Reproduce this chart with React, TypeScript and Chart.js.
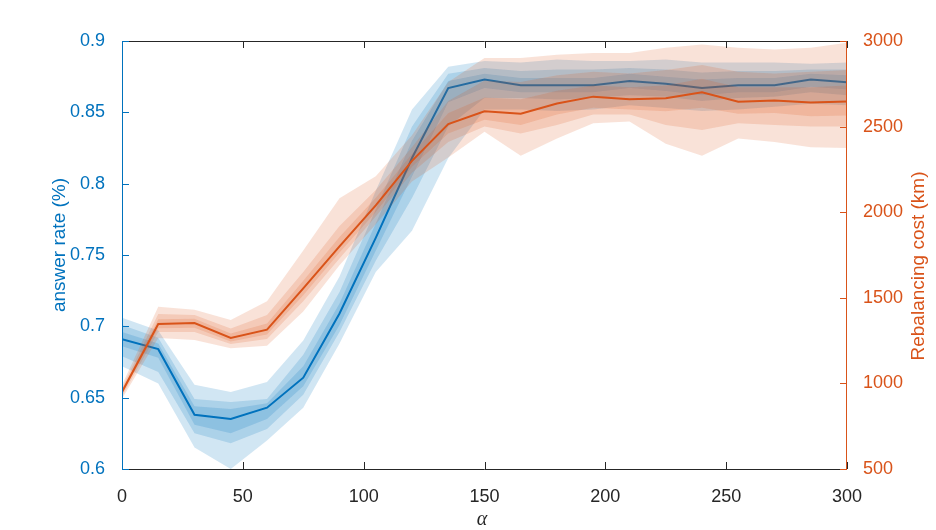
import React, { useEffect, useRef } from "react";
import { Chart, registerables, Plugin } from "chart.js";

Chart.register(...registerables);

const BLUE = "#0072BD";
const ORANGE = "#D95319";
const AXIS = "#262626";
const BLUE_FILL = "rgba(0, 114, 189, 0.18)";
const ORANGE_FILL = "rgba(217, 83, 25, 0.17)";
const FONT = "'Liberation Sans', Arial, Helvetica, sans-serif";

// alpha values on the x axis
const alphas = [0, 15, 30, 45, 60, 75, 90, 105, 120, 135, 150, 165, 180, 195, 210, 225, 240, 255, 270, 285, 300];

// answer rate (left axis)
const rateMid = [0.691, 0.684, 0.638, 0.635, 0.643, 0.664, 0.709, 0.762, 0.818, 0.867, 0.873, 0.869, 0.869, 0.869, 0.872, 0.870, 0.867, 0.869, 0.869, 0.873, 0.871];
const rateOuterHi = [0.706, 0.697, 0.659, 0.654, 0.661, 0.690, 0.735, 0.795, 0.852, 0.882, 0.886, 0.885, 0.887, 0.886, 0.886, 0.887, 0.885, 0.885, 0.885, 0.884, 0.885];
const rateOuterLo = [0.672, 0.660, 0.615, 0.600, 0.620, 0.643, 0.688, 0.738, 0.767, 0.818, 0.852, 0.852, 0.851, 0.852, 0.855, 0.853, 0.851, 0.852, 0.854, 0.856, 0.855];
const rateMidHi = [0.701, 0.692, 0.649, 0.647, 0.649, 0.680, 0.724, 0.782, 0.840, 0.877, 0.881, 0.879, 0.880, 0.880, 0.881, 0.880, 0.878, 0.879, 0.879, 0.880, 0.880];
const rateMidLo = [0.679, 0.668, 0.625, 0.618, 0.628, 0.652, 0.696, 0.746, 0.790, 0.840, 0.860, 0.860, 0.859, 0.860, 0.862, 0.861, 0.858, 0.860, 0.861, 0.864, 0.862];
const rateInnerHi = [0.696, 0.688, 0.644, 0.642, 0.646, 0.672, 0.716, 0.772, 0.830, 0.872, 0.877, 0.874, 0.874, 0.874, 0.877, 0.875, 0.873, 0.874, 0.874, 0.877, 0.876];
const rateInnerLo = [0.686, 0.678, 0.631, 0.625, 0.635, 0.658, 0.701, 0.753, 0.805, 0.857, 0.867, 0.864, 0.864, 0.864, 0.867, 0.865, 0.862, 0.864, 0.864, 0.868, 0.866];

// rebalancing cost in km (right axis)
const costMid = [950, 1347, 1353, 1265, 1314, 1555, 1800, 2040, 2300, 2515, 2590, 2575, 2635, 2675, 2660, 2665, 2700, 2645, 2653, 2641, 2647];
const costOuterHi = [990, 1447, 1430, 1371, 1480, 1776, 2082, 2210, 2450, 2760, 2900, 2900, 2920, 2930, 2930, 2960, 2980, 2960, 2950, 2960, 2990];
const costOuterLo = [910, 1265, 1253, 1206, 1220, 1420, 1690, 1930, 2180, 2320, 2470, 2330, 2430, 2520, 2530, 2400, 2330, 2430, 2410, 2380, 2375];
const costMidHi = [975, 1405, 1400, 1320, 1400, 1650, 1920, 2130, 2380, 2650, 2770, 2760, 2800, 2820, 2810, 2830, 2860, 2820, 2810, 2820, 2830];
const costMidLo = [925, 1300, 1300, 1230, 1260, 1480, 1730, 1975, 2230, 2410, 2500, 2460, 2510, 2570, 2570, 2510, 2480, 2520, 2510, 2500, 2500];
const costInnerHi = [962, 1375, 1378, 1292, 1350, 1600, 1855, 2085, 2340, 2580, 2670, 2660, 2710, 2740, 2730, 2740, 2780, 2730, 2730, 2730, 2740];
const costInnerLo = [938, 1322, 1325, 1245, 1285, 1515, 1765, 2000, 2265, 2460, 2540, 2510, 2570, 2610, 2600, 2590, 2610, 2575, 2580, 2560, 2565];

const points = (vals: number[]) => alphas.map((x, i) => ({ x, y: vals[i] }));

// upper edge fills down to the dataset right after it (its lower edge)
const band = (hi: number[], lo: number[], color: string, axis: string, order: number) => [
  {
    data: points(hi),
    yAxisID: axis,
    fill: "+1",
    backgroundColor: color,
    borderColor: "rgba(0,0,0,0)",
    borderWidth: 0,
    pointRadius: 0,
    order,
  },
  {
    data: points(lo),
    yAxisID: axis,
    fill: false,
    borderColor: "rgba(0,0,0,0)",
    borderWidth: 0,
    pointRadius: 0,
    order,
  },
];

// MATLAB style box, inward ticks and axis titles
const matlabAxes: Plugin = {
  id: "matlabAxes",
  afterDraw(chart) {
    const { ctx, chartArea: a, scales } = chart;
    const tick = 7;
    ctx.save();
    ctx.lineWidth = 1;

    ctx.strokeStyle = AXIS;
    ctx.beginPath();
    ctx.moveTo(a.left, a.bottom + 0.5);
    ctx.lineTo(a.right, a.bottom + 0.5);
    ctx.moveTo(a.left, a.top + 0.5);
    ctx.lineTo(a.right, a.top + 0.5);
    scales.x.ticks.forEach((t) => {
      const px = Math.round(scales.x.getPixelForValue(t.value)) + 0.5;
      ctx.moveTo(px, a.bottom);
      ctx.lineTo(px, a.bottom - tick);
      ctx.moveTo(px, a.top);
      ctx.lineTo(px, a.top + tick);
    });
    ctx.stroke();

    ctx.strokeStyle = BLUE;
    ctx.beginPath();
    ctx.moveTo(a.left + 0.5, a.top);
    ctx.lineTo(a.left + 0.5, a.bottom + 1);
    scales.y.ticks.forEach((t) => {
      const py = Math.round(scales.y.getPixelForValue(t.value)) + 0.5;
      ctx.moveTo(a.left, py);
      ctx.lineTo(a.left + tick, py);
    });
    ctx.stroke();

    ctx.strokeStyle = ORANGE;
    ctx.beginPath();
    ctx.moveTo(a.right - 0.5, a.top);
    ctx.lineTo(a.right - 0.5, a.bottom + 1);
    scales.y2.ticks.forEach((t) => {
      const py = Math.round(scales.y2.getPixelForValue(t.value)) + 0.5;
      ctx.moveTo(a.right, py);
      ctx.lineTo(a.right - tick, py);
    });
    ctx.stroke();

    ctx.textAlign = "center";
    ctx.textBaseline = "middle";

    ctx.fillStyle = BLUE;
    ctx.font = `19px ${FONT}`;
    ctx.save();
    ctx.translate(60, 245);
    ctx.rotate(-Math.PI / 2);
    ctx.fillText("answer rate (%)", 0, 0);
    ctx.restore();

    ctx.fillStyle = ORANGE;
    ctx.save();
    ctx.translate(919, 266);
    ctx.rotate(-Math.PI / 2);
    ctx.fillText("Rebalancing cost (km)", 0, 0);
    ctx.restore();

    ctx.fillStyle = AXIS;
    ctx.font = `italic 20px 'Liberation Serif', 'DejaVu Serif', serif`;
    ctx.fillText("α", 482, 520);

    ctx.restore();
  },
};

export default function App() {
  const canvasRef = useRef<HTMLCanvasElement | null>(null);

  useEffect(() => {
    document.body.style.margin = "0";
    if (!canvasRef.current) return;

    const chart = new Chart(canvasRef.current, {
      type: "line",
      data: {
        datasets: [
          ...band(rateOuterHi, rateOuterLo, BLUE_FILL, "y", 6),
          ...band(rateMidHi, rateMidLo, BLUE_FILL, "y", 6),
          ...band(rateInnerHi, rateInnerLo, BLUE_FILL, "y", 6),
          {
            data: points(rateMid),
            yAxisID: "y",
            borderColor: BLUE,
            borderWidth: 2,
            pointRadius: 0,
            fill: false,
            order: 5,
          },
          ...band(costOuterHi, costOuterLo, ORANGE_FILL, "y2", 2),
          ...band(costMidHi, costMidLo, ORANGE_FILL, "y2", 2),
          ...band(costInnerHi, costInnerLo, ORANGE_FILL, "y2", 2),
          {
            data: points(costMid),
            yAxisID: "y2",
            borderColor: ORANGE,
            borderWidth: 2,
            pointRadius: 0,
            fill: false,
            order: 1,
          },
        ] as any,
      },
      options: {
        animation: false,
        responsive: true,
        maintainAspectRatio: false,
        layout: { padding: { top: 41, left: 0, right: 0, bottom: 0 } },
        plugins: {
          legend: { display: false },
          tooltip: { enabled: false },
        },
        scales: {
          x: {
            type: "linear",
            min: 0,
            max: 300,
            grid: { display: false },
            border: { display: false },
            ticks: {
              stepSize: 50,
              color: AXIS,
              font: { size: 18, family: FONT },
              padding: 9,
              maxRotation: 0,
              callback: (v) => String(v),
            },
            afterFit: (scale) => {
              scale.height = 61;
            },
          },
          y: {
            position: "left",
            min: 0.6,
            max: 0.9,
            grid: { display: false },
            border: { display: false },
            ticks: {
              stepSize: 0.05,
              color: BLUE,
              font: { size: 18, family: FONT },
              padding: 9,
              callback: (v) => String(Math.round(Number(v) * 100) / 100),
            },
            afterFit: (scale) => {
              scale.width = 122;
            },
          },
          y2: {
            position: "right",
            min: 500,
            max: 3000,
            grid: { display: false },
            border: { display: false },
            ticks: {
              stepSize: 500,
              color: ORANGE,
              font: { size: 18, family: FONT },
              padding: 8,
              callback: (v) => String(v),
            },
            afterFit: (scale) => {
              scale.width = 89;
            },
          },
        },
      },
      plugins: [matlabAxes],
    });

    return () => {
      chart.destroy();
    };
  }, []);

  return (
    <div style={{ position: "relative", width: "936px", height: "530px" }}>
      <canvas ref={canvasRef} />
    </div>
  );
}
